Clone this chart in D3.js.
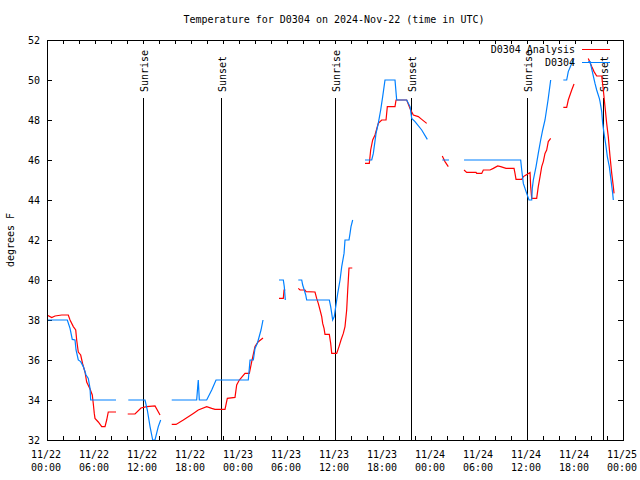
<!DOCTYPE html>
<html><head><meta charset="utf-8">
<script src="https://cdn.jsdelivr.net/npm/d3@7/dist/d3.min.js"></script>
<style>
body{margin:0;background:#fff}
text{font-family:"DejaVu Sans Mono","Liberation Mono",monospace;font-size:10px;fill:#000}
</style>
</head><body>
<svg id="chart" width="640" height="480"></svg>
<script>
// Hours since 2024-11-22 00:00 UTC; null temperature = gap in the record
const analysisHours = [0.0,0.59,1.0,1.84,2.66,2.88,3.29,3.59,3.71,3.91,4.21,4.46,4.75,4.96,5.38,5.66,5.79,5.91,6.0,6.41,6.84,7.25,7.46,7.66,8.63, 9.4,
 10.09,11.0,11.75,12.46,13.5,14.13, 14.9,
 15.59,16.13,17.04,18.29,18.91,19.96,20.59,21.0,22.25,22.54,23.5,23.71,24.04,24.75,25.29,25.59,26.0,26.38,27.0, 28.0,
 29.0,29.54,29.63,29.79, 30.6,
 31.41,31.63,32.25,32.38,33.5,33.71,33.91,34.13,34.34,34.46,34.63,34.75,35.29,35.46,35.59,36.21,36.5,36.75,37.04,37.25,37.46,37.59,37.75,38.16, 39.0,
 39.75,40.29,40.46,40.71,41.0,41.41,41.84,42.38,42.54,43.5,43.63,44.96,45.38,45.79,46.41,46.84,47.46, 48.4,
 49.41,49.75,50.16, 51.0,
 52.13,52.46,53.63,53.71,54.34,54.54,55.38,55.79,56.34,56.71,57.38,58.38,58.5,58.63,59.34,59.54,59.88,60.38,60.46,60.59,61.21,61.41,61.63,61.84,62.04,62.25,62.46,62.66,62.96, 63.7,
 64.54,64.96,65.16,65.59,65.88, 66.8,
 67.66,68.09,68.38,68.71,69.34,69.54,69.75,69.96,70.16,70.38,70.59,70.79,70.88];
const analysisTemps = [38.25,38.12,38.2,38.25,38.25,38.0,37.67,37.5,37.0,36.4,36.25,35.8,35.4,34.9,34.55,34.25,33.8,33.33,33.08,32.9,32.67,32.67,33.0,33.4,33.4, null,
 33.3,33.3,33.6,33.67,33.7,33.25, null,
 32.78,32.78,33.0,33.33,33.5,33.67,33.58,33.53,33.53,34.08,34.13,34.75,35.0,35.33,35.33,35.92,36.67,36.9,37.1, null,
 39.08,39.08,39.5,39.5, null,
 39.58,39.5,39.5,39.42,39.4,39.08,38.83,38.5,38.17,37.83,37.58,37.28,37.28,36.83,36.33,36.33,36.67,37.0,37.33,37.67,38.5,39.5,40.6,40.6, null,
 45.83,45.83,46.5,47.0,47.25,47.83,48.0,48.0,48.67,48.67,49.0,49.0,48.58,48.25,48.17,48.03,47.83, null,
 46.2,45.92,45.67, null,
 45.5,45.38,45.38,45.33,45.33,45.5,45.5,45.58,45.7,45.67,45.58,45.58,45.33,45.03,45.03,45.17,45.25,45.37,44.67,44.08,44.08,44.67,45.17,45.67,45.92,46.33,46.5,46.92,47.08, null,
 48.63,48.63,49.0,49.5,49.8, null,
 51.08,50.67,50.42,50.2,50.2,49.5,48.67,47.83,47.17,46.17,45.33,44.67,44.33];

const obsHours = [0.0,2.54,2.88,3.16,3.5,3.63,3.91,4.21,4.54,4.88,5.16,5.38,5.46,8.63, 9.4,
 10.16,12.25,12.54,12.88,13.21,13.5,13.91,14.21, 14.9,
 15.59,18.71,18.84,18.91,19.04,19.96,20.59,21.13,25.16,25.38,25.79,26.0,26.29,26.41,26.75,27.0, 28.0,
 29.0,29.54,29.66,29.79, 30.6,
 31.41,31.84,31.96,32.16,32.34,32.46,35.29,35.46,35.59,35.71,35.91,36.09,36.34,36.63,36.84,37.13,37.25,37.75,37.88,38.0,38.21, 39.0,
 39.75,40.59,40.79,41.13,41.41,41.71,41.96,42.25,43.5,43.71,44.96,45.38,45.59,46.0,46.84,47.54, 48.4,
 49.41,50.25, 51.0,
 52.13,59.21,59.34,59.54,59.96,60.25,60.59,60.66,60.79,61.13,61.41,61.71,61.96,62.25,62.63,62.96, 63.7,
 64.54,64.96,65.16,65.59,65.88, 66.8,
 67.66,67.88,68.5,68.71,69.04,69.13,69.34,69.46,69.63,69.88,70.04,70.29,70.5,70.71,70.79];
const obsTemps = [38.0,38.0,37.58,37.03,37.0,36.5,36.0,35.92,35.67,35.25,35.08,34.58,34.0,34.0, null,
 34.0,34.0,33.5,32.67,32.0,32.0,32.67,33.0, null,
 34.0,34.0,34.67,35.0,34.0,34.0,34.5,35.0,35.0,36.0,36.0,36.58,36.83,37.0,37.5,38.0, null,
 40.0,40.0,39.67,39.0, null,
 40.0,40.0,39.75,39.5,39.25,39.0,39.0,38.67,38.33,38.0,38.17,38.67,39.33,40.0,40.67,41.33,42.0,42.0,42.33,42.67,43.0, null,
 46.0,46.0,46.33,47.33,47.83,48.5,49.17,50.0,50.0,49.0,49.0,48.67,48.08,47.92,47.5,47.03, null,
 46.0,46.0, null,
 46.0,46.0,45.5,44.83,44.33,44.0,44.0,44.58,45.0,45.67,46.33,47.0,47.5,48.0,49.0,50.0, null,
 50.0,50.0,50.42,50.83,51.08, null,
 50.92,50.92,49.83,49.5,49.08,48.92,48.42,47.83,47.33,46.67,46.17,45.67,45.0,44.33,44.0];

const sunHours = [12.03,21.71,36.02,45.55,59.97,69.54];
const sunLabels = ["Sunrise","Sunset","Sunrise","Sunset","Sunrise","Sunset"];

const xTickHours = [0,6,12,18,24,30,36,42,48,54,60,66,72];
const xTickDates = ["11/22","11/22","11/22","11/22","11/23","11/23","11/23","11/23","11/24","11/24","11/24","11/24","11/25"];
const xTickTimes = ["00:00","06:00","12:00","18:00","00:00","06:00","12:00","18:00","00:00","06:00","12:00","18:00","00:00"];
const xMinorHours = d3.range(0, 73, 2);
const yTicks = [32,34,36,38,40,42,44,46,48,50,52];

const seriesNames = ["D0304 Analysis","D0304"];
const seriesColors = ["#ff0000","#0080ff"];
const titleText = "Temperature for D0304 on 2024-Nov-22 (time in UTC)";
const yLabel = "degrees F";

const L = 47, R = 623, T = 40, B = 440;
const x = d3.scaleLinear().domain([0,72]).range([L,R]);
const y = d3.scaleLinear().domain([32,52]).range([B,T]);

const svg = d3.select("#chart");
svg.append("rect").attr("width",640).attr("height",480).attr("fill","#fff");

svg.append("defs").append("clipPath").attr("id","clip")
  .append("rect").attr("x",L).attr("y",T).attr("width",R-L).attr("height",B-T+1);

// ticks (inward) on all four sides
const tk = svg.append("g").attr("stroke","#000").attr("shape-rendering","crispEdges");
xMinorHours.forEach(h=>{
  const xx = Math.round(x(h))+0.5;
  tk.append("line").attr("x1",xx).attr("x2",xx).attr("y1",B).attr("y2",B-4);
  tk.append("line").attr("x1",xx).attr("x2",xx).attr("y1",T).attr("y2",T+4);
});
yTicks.forEach(v=>{
  const yy = Math.round(y(v))+0.5;
  tk.append("line").attr("x1",L).attr("x2",L+5).attr("y1",yy).attr("y2",yy);
  tk.append("line").attr("x1",R).attr("x2",R-5).attr("y1",yy).attr("y2",yy);
});

// y tick labels
yTicks.forEach(v=>{
  svg.append("text").attr("x",40).attr("y",y(v)).attr("text-anchor","end")
    .attr("dominant-baseline","central").text(v);
});
// x tick labels
xTickHours.forEach((h,i)=>{
  svg.append("text").attr("x",x(h)-1).attr("y",458).attr("text-anchor","middle").text(xTickDates[i]);
  svg.append("text").attr("x",x(h)-1).attr("y",471).attr("text-anchor","middle").text(xTickTimes[i]);
});

// title and axis label
svg.append("text").attr("x",334).attr("y",23).attr("text-anchor","middle").text(titleText);
svg.append("text").attr("transform","translate(14,240) rotate(-90)")
  .attr("text-anchor","middle").text(yLabel);

// sunrise / sunset markers
sunHours.forEach((h,i)=>{
  const xx = Math.round(x(h))+0.5;
  svg.append("line").attr("x1",xx).attr("x2",xx).attr("y1",98).attr("y2",B)
    .attr("stroke","#000").attr("shape-rendering","crispEdges");
  svg.append("text").attr("transform",`translate(${xx+4},92) rotate(-90)`)
    .attr("text-anchor","start").text(sunLabels[i]);
});

// data lines
const line = d3.line().defined(d=>d[1]!==null).x(d=>x(d[0])).y(d=>y(d[1]));
const series = [d3.zip(analysisHours, analysisTemps), d3.zip(obsHours, obsTemps)];
const g = svg.append("g").attr("clip-path","url(#clip)");
series.forEach((s,i)=>{
  g.append("path").datum(s).attr("d",line).attr("fill","none")
    .attr("stroke",seriesColors[i]).attr("stroke-width",1.2);
});

// legend
seriesNames.forEach((n,i)=>{
  const ly = 49 + i*13;
  svg.append("text").attr("x",575).attr("y",ly).attr("text-anchor","end")
    .attr("dominant-baseline","central").text(n);
  svg.append("line").attr("x1",582).attr("x2",610).attr("y1",ly+0.5).attr("y2",ly+0.5)
    .attr("stroke",seriesColors[i]).attr("shape-rendering","crispEdges");
});

// frame
svg.append("rect").attr("x",L+0.5).attr("y",T+0.5).attr("width",R-L).attr("height",B-T)
  .attr("fill","none").attr("stroke","#000").attr("shape-rendering","crispEdges");
</script>
</body></html>
